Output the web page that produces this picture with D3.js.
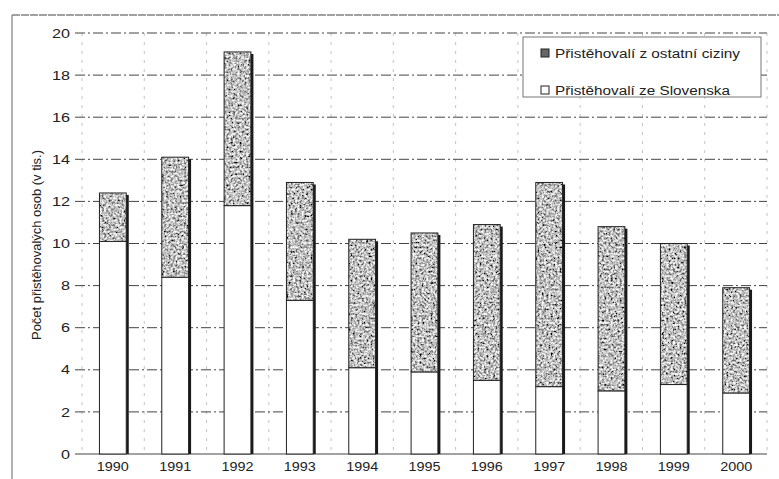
<!DOCTYPE html>
<html><head><meta charset="utf-8">
<script src="https://cdn.jsdelivr.net/npm/d3@7/dist/d3.min.js"></script>
<style>body{margin:0;background:#fff}svg{display:block}text{font-family:"Liberation Sans",Arial,sans-serif;fill:#222}</style>
</head><body><svg id="c" width="779" height="479"></svg>
<script>
const years = ["1990","1991","1992","1993","1994","1995","1996","1997","1998","1999","2000"];
const slovensko = [10.1, 8.4, 11.8, 7.3, 4.1, 3.9, 3.5, 3.2, 3.0, 3.3, 2.9];
const ostatni = [2.3, 5.7, 7.3, 5.6, 6.1, 6.6, 7.4, 9.7, 7.8, 6.7, 5.0];
const yTicks = [0,2,4,6,8,10,12,14,16,18,20];
const seriesNames = ["Přistěhovalí z ostatní ciziny","Přistěhovalí ze Slovenska"];

const svg = d3.select("#c");
const defs = svg.append("defs");
const f = defs.append("filter").attr("id","noise").attr("x",0).attr("y",0).attr("width","100%").attr("height","100%")
  .attr("filterUnits","objectBoundingBox").attr("primitiveUnits","userSpaceOnUse");
f.append("feTurbulence").attr("type","fractalNoise").attr("baseFrequency","0.45").attr("numOctaves",3).attr("seed",5).attr("result","t");
f.append("feColorMatrix").attr("in","t").attr("type","matrix")
 .attr("values","1.9 0 0 0 -0.42  1.9 0 0 0 -0.42  1.9 0 0 0 -0.42  0 0 0 0 1").attr("result","n");
f.append("feComposite").attr("in","n").attr("in2","SourceGraphic").attr("operator","in");

const x = d3.scaleBand().domain(years).range([82,767]).paddingInner(0.57).paddingOuter(0.28);
const y = d3.scaleLinear().domain([0,20]).range([454,33]);

// outer frame
svg.append("line").attr("x1",12).attr("x2",779).attr("y1",15).attr("y2",15).attr("stroke","#444").attr("stroke-width",1).attr("stroke-dasharray","8,1");
svg.append("line").attr("x1",12).attr("x2",12).attr("y1",15).attr("y2",479).attr("stroke","#666").attr("stroke-width",1);

// vertical light grid
const bounds = d3.range(years.length+1).map(i => 82 + i*((767-82)/years.length));
svg.append("g").selectAll("line").data(bounds).join("line")
 .attr("x1",d=>d).attr("x2",d=>d).attr("y1",33).attr("y2",454)
 .attr("stroke","#c4c4c4").attr("stroke-dasharray","3,6").attr("stroke-width",1);

// horizontal grid
svg.append("g").selectAll("line").data(yTicks.filter(d=>d>0)).join("line")
 .attr("x1",75).attr("x2",767).attr("y1",d=>y(d)).attr("y2",d=>y(d))
 .attr("stroke","#444").attr("stroke-dasharray","10,3,2,3").attr("stroke-width",1);

// axes
const yAxis = d3.axisLeft(y).tickValues(yTicks).tickSize(0).tickPadding(6);
const gy = svg.append("g").attr("transform","translate(76,0)").call(yAxis);
gy.select(".domain").remove();
gy.selectAll("text").style("font-size","13px").style("font-family","Liberation Sans, Arial, sans-serif").attr("fill","#222")
  .attr("textLength",d=>d>=10?18:9).attr("lengthAdjust","spacingAndGlyphs");

svg.append("line").attr("x1",75).attr("x2",767).attr("y1",y(0)).attr("y2",y(0)).attr("stroke","#444");

const xAxis = d3.axisBottom(x).tickSize(0).tickPadding(8);
const gx = svg.append("g").attr("transform",`translate(0,${y(0)})`).call(xAxis);
gx.select(".domain").remove();
gx.selectAll("text").style("font-size","12.5px").style("font-family","Liberation Sans, Arial, sans-serif").attr("fill","#222")
  .attr("textLength",32).attr("lengthAdjust","spacingAndGlyphs");

// bars
const bw = x.bandwidth();
const g = svg.append("g");
years.forEach((yr,i)=>{
  const x0 = x(yr);
  const total = slovensko[i]+ostatni[i];
  g.append("rect").attr("x",x0+bw-1).attr("y",y(total)+2).attr("width",3.5).attr("height",y(0)-y(total)-2).attr("fill","#1a1a1a");
  g.append("rect").attr("x",x0).attr("y",y(slovensko[i])).attr("width",bw).attr("height",y(0)-y(slovensko[i]))
   .attr("fill","#fff").attr("stroke","#222").attr("stroke-width",1);
  g.append("rect").attr("x",x0).attr("y",y(total)).attr("width",bw).attr("height",y(slovensko[i])-y(total))
   .attr("fill","#8c8c8c").attr("filter","url(#noise)");
  g.append("rect").attr("x",x0).attr("y",y(total)).attr("width",bw).attr("height",y(slovensko[i])-y(total))
   .attr("fill","none").attr("stroke","#222").attr("stroke-width",1);
});

// y title
svg.append("text").attr("transform","translate(41,245) rotate(-90)").attr("text-anchor","middle")
 .style("font-size","13px").attr("textLength",190).attr("lengthAdjust","spacingAndGlyphs").text("Počet přistěhovalých osob (v tis.)");

// legend
const lg = svg.append("g");
lg.append("rect").attr("x",523).attr("y",37).attr("width",238).attr("height",60).attr("fill","#fff").attr("stroke","#777").attr("stroke-width",1);
const ly = [53,90];
const lw = [185,175];
seriesNames.forEach((n,i)=>{
  lg.append("rect").attr("x",541).attr("y",ly[i]-4).attr("width",8).attr("height",8)
    .attr("fill",i===0?"#666":"#fff").attr("stroke","#222");
  lg.append("text").attr("x",555).attr("y",ly[i]+4.5).style("font-size","12.5px")
    .attr("textLength",lw[i]).attr("lengthAdjust","spacingAndGlyphs").text(n);
});
</script></body></html>
